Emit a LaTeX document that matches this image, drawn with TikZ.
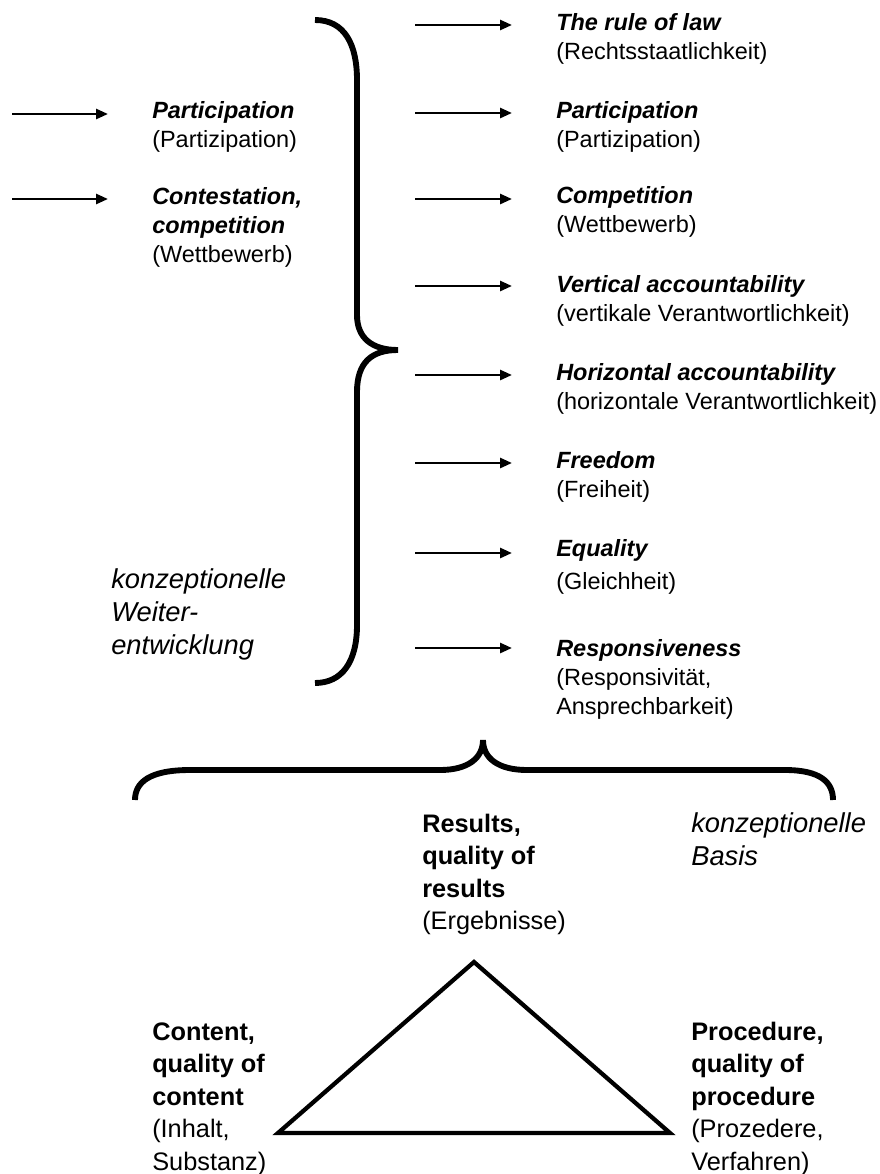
\documentclass[tikz,border=0pt]{standalone}
\usepackage{fontspec}
\setmainfont{Liberation Sans}
\usetikzlibrary{arrows.meta}
\newcommand{\mystack}[1]{\begin{tabular}[t]{@{}l@{}}#1\end{tabular}}
\begin{document}
\begin{tikzpicture}[x=0.75pt,y=-0.75pt,
  txt/.style={anchor=base west,inner sep=0pt,font=\fontsize{17.6}{21.75}\selectfont},
  big/.style={anchor=base west,inner sep=0pt,font=\fontsize{20.5}{25}\selectfont\itshape},
  low/.style={anchor=base west,inner sep=0pt,font=\fontsize{19}{24.4}\selectfont},
  arr/.style={line width=2pt,-{Triangle[length=9pt,width=7.5pt]}},
  brace/.style={line width=4.4pt},
  tri/.style={line width=3.2pt,line join=miter}]
\useasboundingbox (0,0) rectangle (880,1174);

% right column
\node[txt] (r1) at (556,30)  {\mystack{\textbf{\textit{The rule of law}}\\(Rechtsstaatlichkeit)}};
\node[txt] (r2) at (556,118) {\mystack{\textbf{\textit{Participation}}\\(Partizipation)}};
\node[txt] (r3) at (556,203) {\mystack{\textbf{\textit{Competition}}\\(Wettbewerb)}};
\node[txt] (r4) at (556,292) {\mystack{\textbf{\textit{Vertical accountability}}\\(vertikale Verantwortlichkeit)}};
\node[txt] (r5) at (556,380) {\mystack{\textbf{\textit{Horizontal accountability}}\\(horizontale Verantwortlichkeit)}};
\node[txt] (r6) at (556,468) {\mystack{\textbf{\textit{Freedom}}\\(Freiheit)}};
\node[txt] (r7) at (556,556) {\mystack{\textbf{\textit{Equality}}\\[3.5pt](Gleichheit)}};
\node[txt] (r8) at (556,656) {\mystack{\textbf{\textit{Responsiveness}}\\(Responsivität,\\Ansprechbarkeit)}};

\foreach \i/\y in {1/25,2/113,3/199,4/286,5/375,6/463,7/553,8/648}{
  \coordinate (rs\i) at (415,\y);
  \coordinate (re\i) at (512,\y);
  \draw[arr] (rs\i) -- (re\i);
}

% left column
\node[txt] (l1) at (152,118) {\mystack{\textbf{\textit{Participation}}\\(Partizipation)}};
\node[txt] (l2) at (152,204) {\mystack{\textbf{\textit{Contestation,}}\\\textbf{\textit{competition}}\\(Wettbewerb)}};
\coordinate (ls1) at (12,114);  \coordinate (le1) at (108,114);
\coordinate (ls2) at (12,199);  \coordinate (le2) at (108,199);
\draw[arr] (ls1) -- (le1);
\draw[arr] (ls2) -- (le2);

\node[big] (kw) at (111,588) {\mystack{konzeptionelle\\Weiter-\\entwicklung}};

% vertical brace
\draw[brace] (315,20) .. controls (345,20) and (357,45) .. (357,80)
  -- (357,315) .. controls (357,338) and (372,350) .. (398,350)
  .. controls (372,350) and (357,362) .. (357,392)
  -- (357,625) .. controls (357,662) and (342,683) .. (315,683);

% horizontal brace
\draw[brace] (135,800) .. controls (135,782) and (150,770) .. (190,770)
  -- (440,770) .. controls (468,770) and (483,758) .. (483,740)
  .. controls (483,758) and (498,770) .. (527,770)
  -- (785,770) .. controls (820,770) and (833,782) .. (833,800);

\node[big] (kb) at (691,832) {\mystack{konzeptionelle\\Basis}};

% bottom texts
\node[low] (res) at (422,832) {\mystack{\textbf{Results,}\\\textbf{quality of}\\\textbf{results}\\(Ergebnisse)}};
\node[low] (con) at (152,1040) {\mystack{\textbf{Content,}\\\textbf{quality of}\\\textbf{content}\\(Inhalt,\\Substanz)}};
\node[low] (pro) at (691,1040) {\mystack{\textbf{Procedure,}\\\textbf{quality of}\\\textbf{procedure}\\(Prozedere,\\Verfahren)}};

% triangle
\coordinate (ta) at (474,962);
\coordinate (tl) at (278,1133);
\coordinate (tr) at (670,1133);
\draw[tri] (ta) -- (tr) -- (tl) -- cycle;
\end{tikzpicture}
\end{document}
